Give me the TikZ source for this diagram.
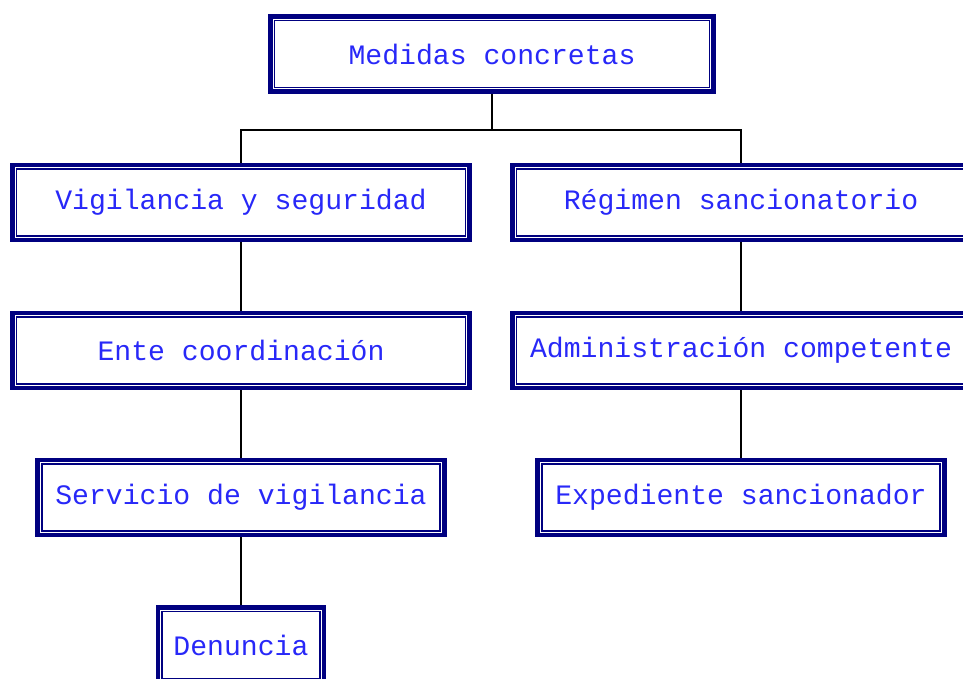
\documentclass[tikz,border=0pt]{standalone}
\usepackage{fontspec}
\setmonofont{Liberation Mono}
\definecolor{navy}{HTML}{000080}
\definecolor{txtblue}{HTML}{2828F8}
\tikzset{
 box/.style={draw=navy, line width=3.5pt, fill=white, rectangle, minimum height=1.875cm,
  inner sep=0pt, text=txtblue, font=\ttfamily\fontsize{20pt}{24pt}\selectfont,
  path picture={\draw[navy, line width=1pt]
   ([shift={(2.9pt,2.9pt)}]path picture bounding box.south west) rectangle
   ([shift={(-2.9pt,-2.9pt)}]path picture bounding box.north east);}},
 link/.style={black, line width=1.1pt}
}
\begin{document}
\begin{tikzpicture} [x=0.025cm, y=-0.025cm]
\useasboundingbox (0,0) rectangle (963,679);
\node[box, minimum width=11.075cm] (medidas) at (492,54) {Medidas concretas};
\node[box, minimum width=11.425cm] (vigilancia) at (241,202.5) {Vigilancia y seguridad};
\node[box, minimum width=11.425cm] (regimen) at (741,202.5) {Régimen sancionatorio};
\node[box, minimum width=11.425cm] (ente) at (241,350.5) {Ente coordinación};
\node[box, minimum width=11.425cm] (admin) at (741,350.5) {Administración competente};
\node[box, minimum width=10.15cm] (servicio) at (241,497.5) {Servicio de vigilancia};
\node[box, minimum width=10.15cm] (expediente) at (741,497.5) {Expediente sancionador};
\node[box, minimum width=4.15cm] (denuncia) at (241,645) {Denuncia};
\coordinate (split) at (492,130);
\draw[link] (medidas.south) -- (split);
\draw[link] (split) -| (vigilancia.north);
\draw[link] (split) -| (regimen.north);
\draw[link] (vigilancia) -- (ente);
\draw[link] (ente) -- (servicio);
\draw[link] (servicio) -- (denuncia);
\draw[link] (regimen) -- (admin);
\draw[link] (admin) -- (expediente);
\end{tikzpicture}
\end{document}
